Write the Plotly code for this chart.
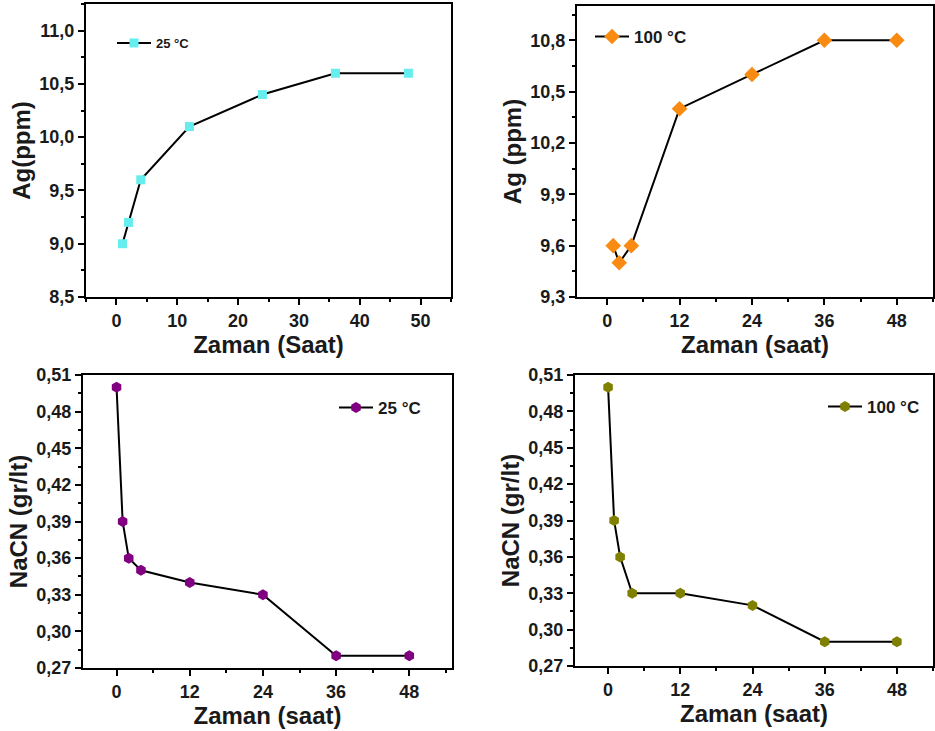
import plotly.graph_objects as go

# ---- data ----
t_ag25 = [1, 2, 4, 12, 24, 36, 48]
ag25 = [9.0, 9.2, 9.6, 10.1, 10.4, 10.6, 10.6]

t_ag100 = [1, 2, 4, 12, 24, 36, 48]
ag100 = [9.6, 9.5, 9.6, 10.4, 10.6, 10.8, 10.8]

t_na25 = [0, 1, 2, 4, 12, 24, 36, 48]
na25 = [0.50, 0.39, 0.36, 0.35, 0.34, 0.33, 0.28, 0.28]

t_na100 = [0, 1, 2, 4, 12, 24, 36, 48]
na100 = [0.50, 0.39, 0.36, 0.33, 0.33, 0.32, 0.29, 0.29]

W, H = 935, 731
FONT = "Liberation Sans, Arial, sans-serif"


def xd(a, b):
    return [a / W, b / W]


def yd(top, bottom):
    return [1 - bottom / H, 1 - top / H]


fig = go.Figure()

fig.add_trace(go.Scatter(
    x=t_ag25, y=ag25, mode="lines+markers", name="25 °C", showlegend=True,
    line=dict(color="black", width=2),
    marker=dict(symbol="square", size=9, color="#66eeee"),
    xaxis="x", yaxis="y", legend="legend"))
fig.add_trace(go.Scatter(
    x=t_ag100, y=ag100, mode="lines+markers", name="100 °C", showlegend=True,
    line=dict(color="black", width=2),
    marker=dict(symbol="diamond", size=12, color="#f98a12"),
    xaxis="x2", yaxis="y2", legend="legend2"))
fig.add_trace(go.Scatter(
    x=t_na25, y=na25, mode="lines+markers", name="25 °C", showlegend=True,
    line=dict(color="black", width=2),
    marker=dict(symbol="hexagon", size=11, color="#800080"),
    xaxis="x3", yaxis="y3", legend="legend3"))
fig.add_trace(go.Scatter(
    x=t_na100, y=na100, mode="lines+markers", name="100 °C", showlegend=True,
    line=dict(color="black", width=2),
    marker=dict(symbol="hexagon", size=11, color="#808000"),
    xaxis="x4", yaxis="y4", legend="legend4"))

tickfont = dict(family=FONT, size=18, color="#1a1a1a", weight="bold")
titlefont = dict(family=FONT, size=24, color="#1a1a1a", weight="bold")


def axis(domain, rng, dtick, minor, title, anchor, fmt=None, standoff=6):
    d = dict(domain=domain, range=rng, dtick=dtick, tick0=0,
             showline=True, linecolor="black", linewidth=2, mirror=True,
             ticks="outside", ticklen=6, tickwidth=2, tickcolor="black",
             minor=dict(ticks="outside", ticklen=3, tickwidth=1.5,
                        tickcolor="black", dtick=minor, tick0=0),
             showgrid=False, zeroline=False, tickfont=tickfont,
             title=dict(text=title, font=titlefont, standoff=standoff),
             anchor=anchor, automargin=False)
    if fmt:
        d["tickformat"] = fmt
    return d


def legend(x, y, size):
    return dict(x=x / W, y=1 - y / H, xanchor="left", yanchor="middle",
                bgcolor="rgba(0,0,0,0)", itemwidth=34,
                font=dict(family=FONT, size=size, color="#1a1a1a", weight="bold"))


fig.update_layout(
    width=W, height=H,
    margin=dict(l=0, r=0, t=0, b=0),
    paper_bgcolor="white", plot_bgcolor="white",
    separators=",.",
    showlegend=True,
    xaxis=axis(xd(86, 451), [-5, 55], 10, 5, "Zaman (Saat)", "y", None, 4),
    yaxis=axis(yd(4, 297), [8.5, 11.25], 0.5, 0.25, "Ag(ppm)", "x", ".1f", 2),
    xaxis2=axis(xd(577, 933), [-5, 54], 12, 6, "Zaman (saat)", "y2", None, 4),
    yaxis2=axis(yd(6, 297), [9.3, 11.0], 0.3, 0.15, "Ag (ppm)", "x2", ".1f", 2),
    xaxis3=axis(xd(83, 452), [-5.5, 55], 12, 6, "Zaman (saat)", "y3", None, 2),
    yaxis3=axis(yd(375, 668), [0.27, 0.51], 0.03, 0.015, "NaCN (gr/lt)", "x3", ".2f", 2),
    xaxis4=axis(xd(575, 933), [-5.5, 54], 12, 6, "Zaman (saat)", "y4", None, 2),
    yaxis4=axis(yd(375, 666), [0.27, 0.51], 0.03, 0.015, "NaCN (gr/lt)", "x4", ".2f", 2),
    legend=legend(112, 43, 13),
    legend2=legend(590, 37, 17),
    legend3=legend(334, 408, 17),
    legend4=legend(823, 407, 17),
)

fig.write_html("out.html", config={"displayModeBar": False},
               post_script="document.body.style.margin='0';")
